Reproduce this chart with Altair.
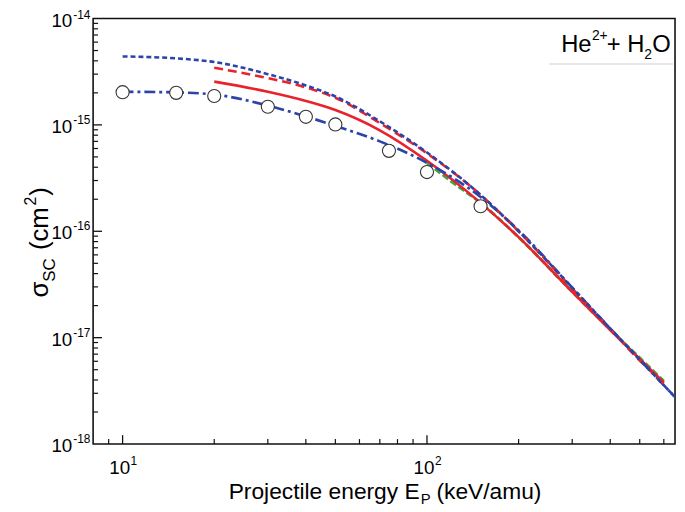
import altair as alt
import pandas as pd

W, H = 588, 430
FONT = "Liberation Sans"

# ---- data ----
exp_E = [10, 15, 20, 30, 40, 50, 75, 100, 150]
exp_s = [2.03e-15, 2.0e-15, 1.87e-15, 1.48e-15, 1.19e-15, 1.01e-15, 5.7e-16, 3.6e-16, 1.72e-16]

E_full = [10, 15, 20, 30, 40, 50, 70, 100, 150, 200, 300, 400, 500, 650]
blue_dash = [4.4e-15, 4.22e-15, 3.9e-15, 3.0e-15, 2.35e-15, 1.85e-15, 1.08e-15, 5.5e-16,
             2.2e-16, 1.0e-16, 2.95e-17, 1.22e-17, 6.2e-18, 2.8e-18]
blue_dashdot = [2.05e-15, 2.02e-15, 1.93e-15, 1.52e-15, 1.2e-15, 9.8e-16, 7.0e-16, 4.4e-16,
                2.1e-16, 1.02e-16, 2.95e-17, 1.22e-17, 6.2e-18, 2.8e-18]

E_red = [20, 30, 40, 50, 70, 100, 150, 200, 300, 400, 500, 600]
red_dash = [3.45e-15, 2.75e-15, 2.25e-15, 1.8e-15, 1.04e-15, 5.4e-16, 2.2e-16, 1.0e-16,
            2.9e-17, 1.2e-17, 6.1e-18, 3.7e-18]
red_solid = [2.55e-15, 2.05e-15, 1.68e-15, 1.38e-15, 8.9e-16, 4.6e-16, 1.85e-16, 8.8e-17,
             2.7e-17, 1.18e-17, 6.3e-18, 3.8e-18]

E_green = [100, 120, 150, 200, 300, 400, 500, 600]
green = [4.4e-16, 2.95e-16, 1.85e-16, 8.8e-17, 2.7e-17, 1.19e-17, 6.45e-18, 3.9e-18]

x_major = [10, 100]
x_minor = [9, 20, 30, 40, 50, 60, 70, 80, 90, 200, 300, 400, 500, 600]
y_major = [1e-17, 1e-16, 1e-15]
y_minor = [m * 10.0 ** k for k in (-18, -17, -16, -15) for m in range(2, 10)]
y_labels = [1e-15, 1e-16, 1e-17, 1e-18]
y_exps = ["-15", "-16", "-17", "-18"]
y_top_label = [1e-14]
y_top_exp = ["-14"]
x_labels = [10, 100]
x_exps = ["1", "2"]

xs = alt.Scale(type="log", domain=[8.0, 653])
ys = alt.Scale(type="log", domain=[1e-18, 1e-14])
X = alt.X("E:Q", scale=xs, axis=None)
Y = alt.Y("s:Q", scale=ys, axis=None)


def line(E, s, color, dash=None, width=2.6):
    df = pd.DataFrame({"E": E, "s": s})
    kw = dict(color=color, strokeWidth=width, clip=True, interpolate="monotone")
    if dash:
        kw["strokeDash"] = dash
    return alt.Chart(df).mark_line(**kw).encode(x=X, y=Y)


BLUE = "#2b44aa"
RED = "#e8232b"
GREEN = "#3aa845"

layers = [
    line(E_green, green, GREEN, [7, 3], 3),
    line(E_red, red_solid, RED, None, 2.6),
    line(E_full, blue_dashdot, BLUE, [11, 4, 3, 4], 2.7),
    line(E_red, red_dash, RED, [9, 5], 2.6),
    line(E_full, blue_dash, BLUE, [5, 3], 2.6),
    alt.Chart(pd.DataFrame({"E": exp_E, "s": exp_s})).mark_point(
        shape="circle", size=175, fill="white", fillOpacity=1, opacity=1,
        stroke="#333333", strokeWidth=1.1).encode(x=X, y=Y),
]

# ticks (inward)
tick_color = "#111111"
layers.append(alt.Chart(pd.DataFrame({"E": x_major})).mark_rule(color=tick_color, strokeWidth=1.3)
              .encode(x=X, y=alt.value(H), y2=alt.value(H - 9)))
layers.append(alt.Chart(pd.DataFrame({"E": x_minor})).mark_rule(color=tick_color, strokeWidth=1.2)
              .encode(x=X, y=alt.value(H), y2=alt.value(H - 5)))
layers.append(alt.Chart(pd.DataFrame({"s": y_major})).mark_rule(color=tick_color, strokeWidth=1.3)
              .encode(y=Y, x=alt.value(0), x2=alt.value(9)))
layers.append(alt.Chart(pd.DataFrame({"s": y_minor})).mark_rule(color=tick_color, strokeWidth=1.2)
              .encode(y=Y, x=alt.value(0), x2=alt.value(5)))


def ylab(vals, exps, shift):
    df = pd.DataFrame({"s": vals, "e": exps})
    a = alt.Chart(df).mark_text(font=FONT, fontSize=19, align="right", baseline="middle", dy=2 + shift) \
        .encode(y=Y, x=alt.value(-21), text=alt.value("10"))
    b = alt.Chart(df).mark_text(font=FONT, fontSize=12, align="left", baseline="middle", dy=-5 + shift) \
        .encode(y=Y, x=alt.value(-20), text="e:N")
    return [a, b]


layers += ylab(y_labels, y_exps, 0)
layers += ylab(y_top_label, y_top_exp, 1)

xdf = pd.DataFrame({"E": x_labels, "e": x_exps})
layers.append(alt.Chart(xdf).mark_text(font=FONT, fontSize=19, align="center", baseline="alphabetic", dx=-3)
              .encode(x=X, y=alt.value(H + 30), text=alt.value("10")))
layers.append(alt.Chart(xdf).mark_text(font=FONT, fontSize=12, align="left", baseline="alphabetic", dx=8)
              .encode(x=X, y=alt.value(H + 21), text="e:N"))


def label(txt, x, y, size, angle=0, align="left", color="black"):
    kw = dict(font=FONT, fontSize=size, align=align, baseline="alphabetic", color=color)
    if angle:
        kw["angle"] = angle
    return alt.Chart(pd.DataFrame({"t": [txt]})).mark_text(**kw).encode(
        x=alt.value(x), y=alt.value(y), text="t:N")


# x title: "Projectile energy E_P (keV/amu)"
tx0 = 137
layers.append(label("Projectile energy E", tx0, H + 56, 23))
layers.append(label("P", tx0 + 194, H + 61, 15))
layers.append(label("(keV/amu)", tx0 + 210, H + 56, 23))

# y title: "σ_SC (cm^2)" rotated
bx = -46
layers.append(label("σ", bx, 282, 26, angle=270))
layers.append(label("SC", bx + 7, 266, 17, angle=270))
layers.append(label("(cm", bx, 234, 26, angle=270))
layers.append(label("2", bx - 12, 189, 16, angle=270))
layers.append(label(")", bx, 179, 26, angle=270))

# legend-like label
lx = 473
layers.append(label("He", lx, 34, 24))
layers.append(label("2+", lx + 31, 22, 14))
layers.append(label("+ H", lx + 46, 34, 24))
layers.append(label("2", lx + 84, 41, 14))
layers.append(label("O", lx + 92, 34, 24))
layers.append(alt.Chart(pd.DataFrame({"a": [0]})).mark_rule(color="#cfcfcf", strokeWidth=1.2)
              .encode(x=alt.value(461), x2=alt.value(586), y=alt.value(46)))

chart = alt.layer(*layers).properties(
    width=W, height=H,
    autosize=alt.AutoSizeParams(type="none"),
    padding={"left": 86, "top": 8, "right": 2, "bottom": 62},
).configure_view(stroke="#111111", strokeWidth=1.6)

chart.save("out.html", embed_options={"renderer": "svg", "actions": False})
